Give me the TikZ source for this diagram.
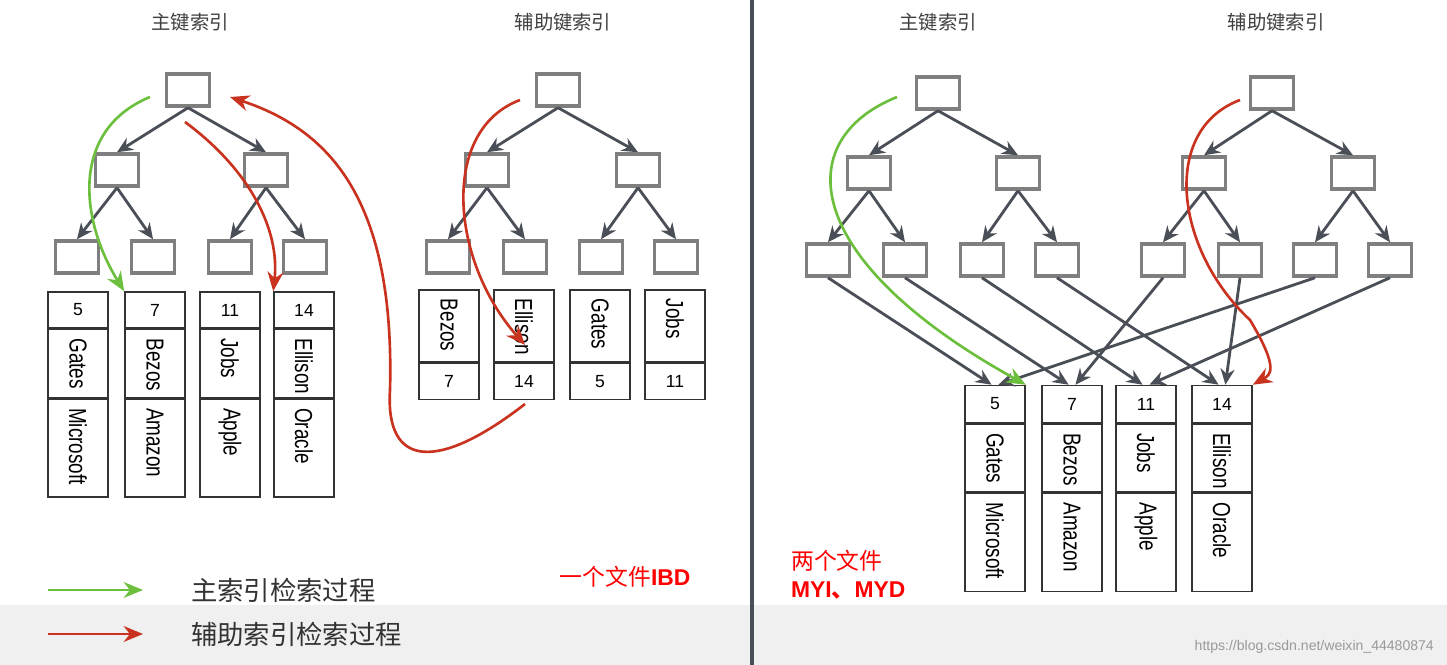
\documentclass[tikz,border=0pt]{standalone}
\usepackage{fontspec}
\setmainfont{Liberation Sans}
\newfontfamily\cjk{Noto Sans CJK SC}
\usetikzlibrary{positioning, arrows.meta}
\definecolor{boxgray}{HTML}{7F7F7F}
\definecolor{arrgray}{HTML}{4A4F57}
\definecolor{greenarr}{HTML}{6CBF3C}
\definecolor{redarr}{HTML}{C8321E}
\newcommand{\vlabel}[1]{\scalebox{0.86}[1.12]{#1}}
\begin{document}
\begin{tikzpicture}[x=0.02cm, y=-0.02cm, >=Stealth,
    tbox/.style={draw=boxgray, line width=2pt, fill=white, minimum width=0.86cm, minimum height=0.64cm, inner sep=0pt},
    cell/.style={draw=black!80, line width=0.9pt, minimum width=1.2cm, inner sep=0pt, font=\fontsize{10}{12}\selectfont},
    vtext/.style={rotate=-90, font=\fontsize{12.5}{14}\selectfont},
    tarr/.style={draw=arrgray, line width=1.6pt, -{Stealth[length=9pt,width=8pt]}},
    garr/.style={draw=greenarr, line width=1.5pt, -{Stealth[length=11pt,width=9pt]}},
    rarr/.style={draw=redarr, line width=1.5pt, -{Stealth[length=11pt,width=9pt]}},
    title/.style={font=\cjk\fontsize{11}{12}\selectfont, text=black!75}]
  \useasboundingbox (0,0) rectangle (1447,665);
  \fill[white] (0,0) rectangle (1447,665);
  \fill[black!6] (0,605) rectangle (1447,665);
  \draw[arrgray, line width=2.5pt] (752,0) -- (752,665);

  % titles
  \node[title] (t1) at (190,22) {主键索引};
  \node[title] (t2) at (563,22) {辅助键索引};
  \node[title] (t3) at (938,22) {主键索引};
  \node[title] (t4) at (1276,22) {辅助键索引};

  % trees
  \foreach \nm/\rx/\ax/\bx/\la/\lb/\lc/\ld in {
      pa/188/117/266/77/153/230/305,
      sa/558/487/638/448/525/601/676,
      pb/938/869/1018/828/905/982/1057,
      sb/1272/1204/1353/1163/1240/1315/1390}{
    \ifnum\rx<700 \def\yo{0}\else\def\yo{3}\fi
    \node[tbox] (\nm-root) at (\rx,90+\yo) {};
    \node[tbox] (\nm-a) at (\ax,170+\yo) {};
    \node[tbox] (\nm-b) at (\bx,170+\yo) {};
    \node[tbox] (\nm-1) at (\la,257+\yo) {};
    \node[tbox] (\nm-2) at (\lb,257+\yo) {};
    \node[tbox] (\nm-3) at (\lc,257+\yo) {};
    \node[tbox] (\nm-4) at (\ld,257+\yo) {};
    \draw[tarr] (\nm-root.south) -- (\nm-a.north);
    \draw[tarr] (\nm-root.south) -- (\nm-b.north);
    \draw[tarr] (\nm-a.south) -- (\nm-1.north);
    \draw[tarr] (\nm-a.south) -- (\nm-2.north);
    \draw[tarr] (\nm-b.south) -- (\nm-3.north);
    \draw[tarr] (\nm-b.south) -- (\nm-4.north);
  }

  % primary records, left
  \foreach \x/\n/\p/\c in {78/5/Gates/Microsoft, 155/7/Bezos/Amazon, 230/11/Jobs/Apple, 304/14/Ellison/Oracle}{
    \node[cell, minimum height=0.72cm] (lk\n) at (\x,310) {\n};
    \node[cell, minimum height=1.36cm, anchor=north] (lp\n) at (lk\n.south) {};
    \node[vtext, anchor=west] at ([yshift=-2pt]lp\n.north) {\vlabel{\p}};
    \node[cell, minimum height=1.96cm, anchor=north] (lc\n) at (lp\n.south) {};
    \node[vtext, anchor=west] at ([yshift=-2pt]lc\n.north) {\vlabel{\c}};
  }
  % secondary records, left
  \foreach \x/\n/\p in {449/7/Bezos, 524/14/Ellison, 600/5/Gates, 675/11/Jobs}{
    \node[cell, minimum height=1.44cm] (sp\n) at (\x,326) {};
    \node[vtext, anchor=west] at ([yshift=-2pt]sp\n.north) {\vlabel{\p}};
    \node[cell, minimum height=0.72cm, anchor=north] (sk\n) at (sp\n.south) {\n};
  }
  % records, right
  \foreach \x/\n/\p/\c in {995/5/Gates/Microsoft, 1072/7/Bezos/Amazon, 1146/11/Jobs/Apple, 1222/14/Ellison/Oracle}{
    \node[cell, minimum height=0.74cm] (r\n) at (\x,404) {\n};
    \node[cell, minimum height=1.36cm, anchor=north] (rp\n) at (r\n.south) {};
    \node[vtext, anchor=west] at ([yshift=-2pt]rp\n.north) {\vlabel{\p}};
    \node[cell, minimum height=1.96cm, anchor=north] (rc\n) at (rp\n.south) {};
    \node[vtext, anchor=west] at ([yshift=-2pt]rc\n.north) {\vlabel{\c}};
  }
  \draw[tarr] (pb-1.south) -- (r5.100);
  \draw[tarr] (pb-2.south) -- (r7.100);
  \draw[tarr] (pb-3.south) -- (r11.100);
  \draw[tarr] (pb-4.south) -- (r14.100);
  \draw[tarr] (sb-1.south) -- (r7.80);
  \draw[tarr] (sb-2.south) -- (r14.80);
  \draw[tarr] (sb-3.south) -- (r5.80);
  \draw[tarr] (sb-4.south) -- (r11.80);

  % search paths
  \coordinate (g1) at (150,97);
  \draw[garr] (g1) .. controls (70,130) and (80,220) .. (lk7.north west);
  \coordinate (h1) at (185,122);
  \draw[rarr] (h1) .. controls (250,170) and (280,230) .. (lk14.north west);
  \coordinate (h2) at (520,100);
  \draw[rarr] (h2) .. controls (440,130) and (450,260) .. (525,345);
  \coordinate (h3) at (525,404);
  \coordinate (h4) at (230,97);
  \draw[rarr] (h3) .. controls (440,470) and (385,470) .. (390,390)
              .. controls (395,200) and (330,130) .. (h4);
  \coordinate (g2) at (897,97);
  \draw[garr] (g2) .. controls (790,140) and (800,260) .. (r5.north east);
  \coordinate (h5) at (1240,100);
  \coordinate (h6) at (1250,320);
  \draw[rarr] (h5) .. controls (1160,130) and (1175,250) .. (h6)
              .. controls (1280,370) and (1270,375) .. (r14.north east);

  % notes
  \node[font=\fontsize{13}{14}\selectfont, text=red] (n1) at (625,577) {{\cjk 一个文件}\textbf{IBD}};
  \node[font=\fontsize{13}{16}\selectfont, text=red, align=left, anchor=west] (n2) at (785,575) {{\cjk 两个文件}\\\textbf{MYI{\cjk 、}MYD}};

  % legend
  \coordinate (lg1) at (48,590);
  \coordinate (lg2) at (143,590);
  \coordinate (lr1) at (48,634);
  \coordinate (lr2) at (143,634);
  \draw[garr] (lg1) -- (lg2);
  \draw[rarr] (lr1) -- (lr2);
  \node[font=\cjk\fontsize{15}{16}\selectfont, text=black!80, anchor=west] (lgt) at (185,590) {主索引检索过程};
  \node[font=\cjk\fontsize{15}{16}\selectfont, text=black!80, anchor=west] (lrt) at (185,634) {辅助索引检索过程};
  \node[font=\fontsize{8}{9}\selectfont, text=black!40, anchor=east] (wm) at (1440,647) {https://blog.csdn.net/weixin\_44480874};
\end{tikzpicture}
\end{document}
